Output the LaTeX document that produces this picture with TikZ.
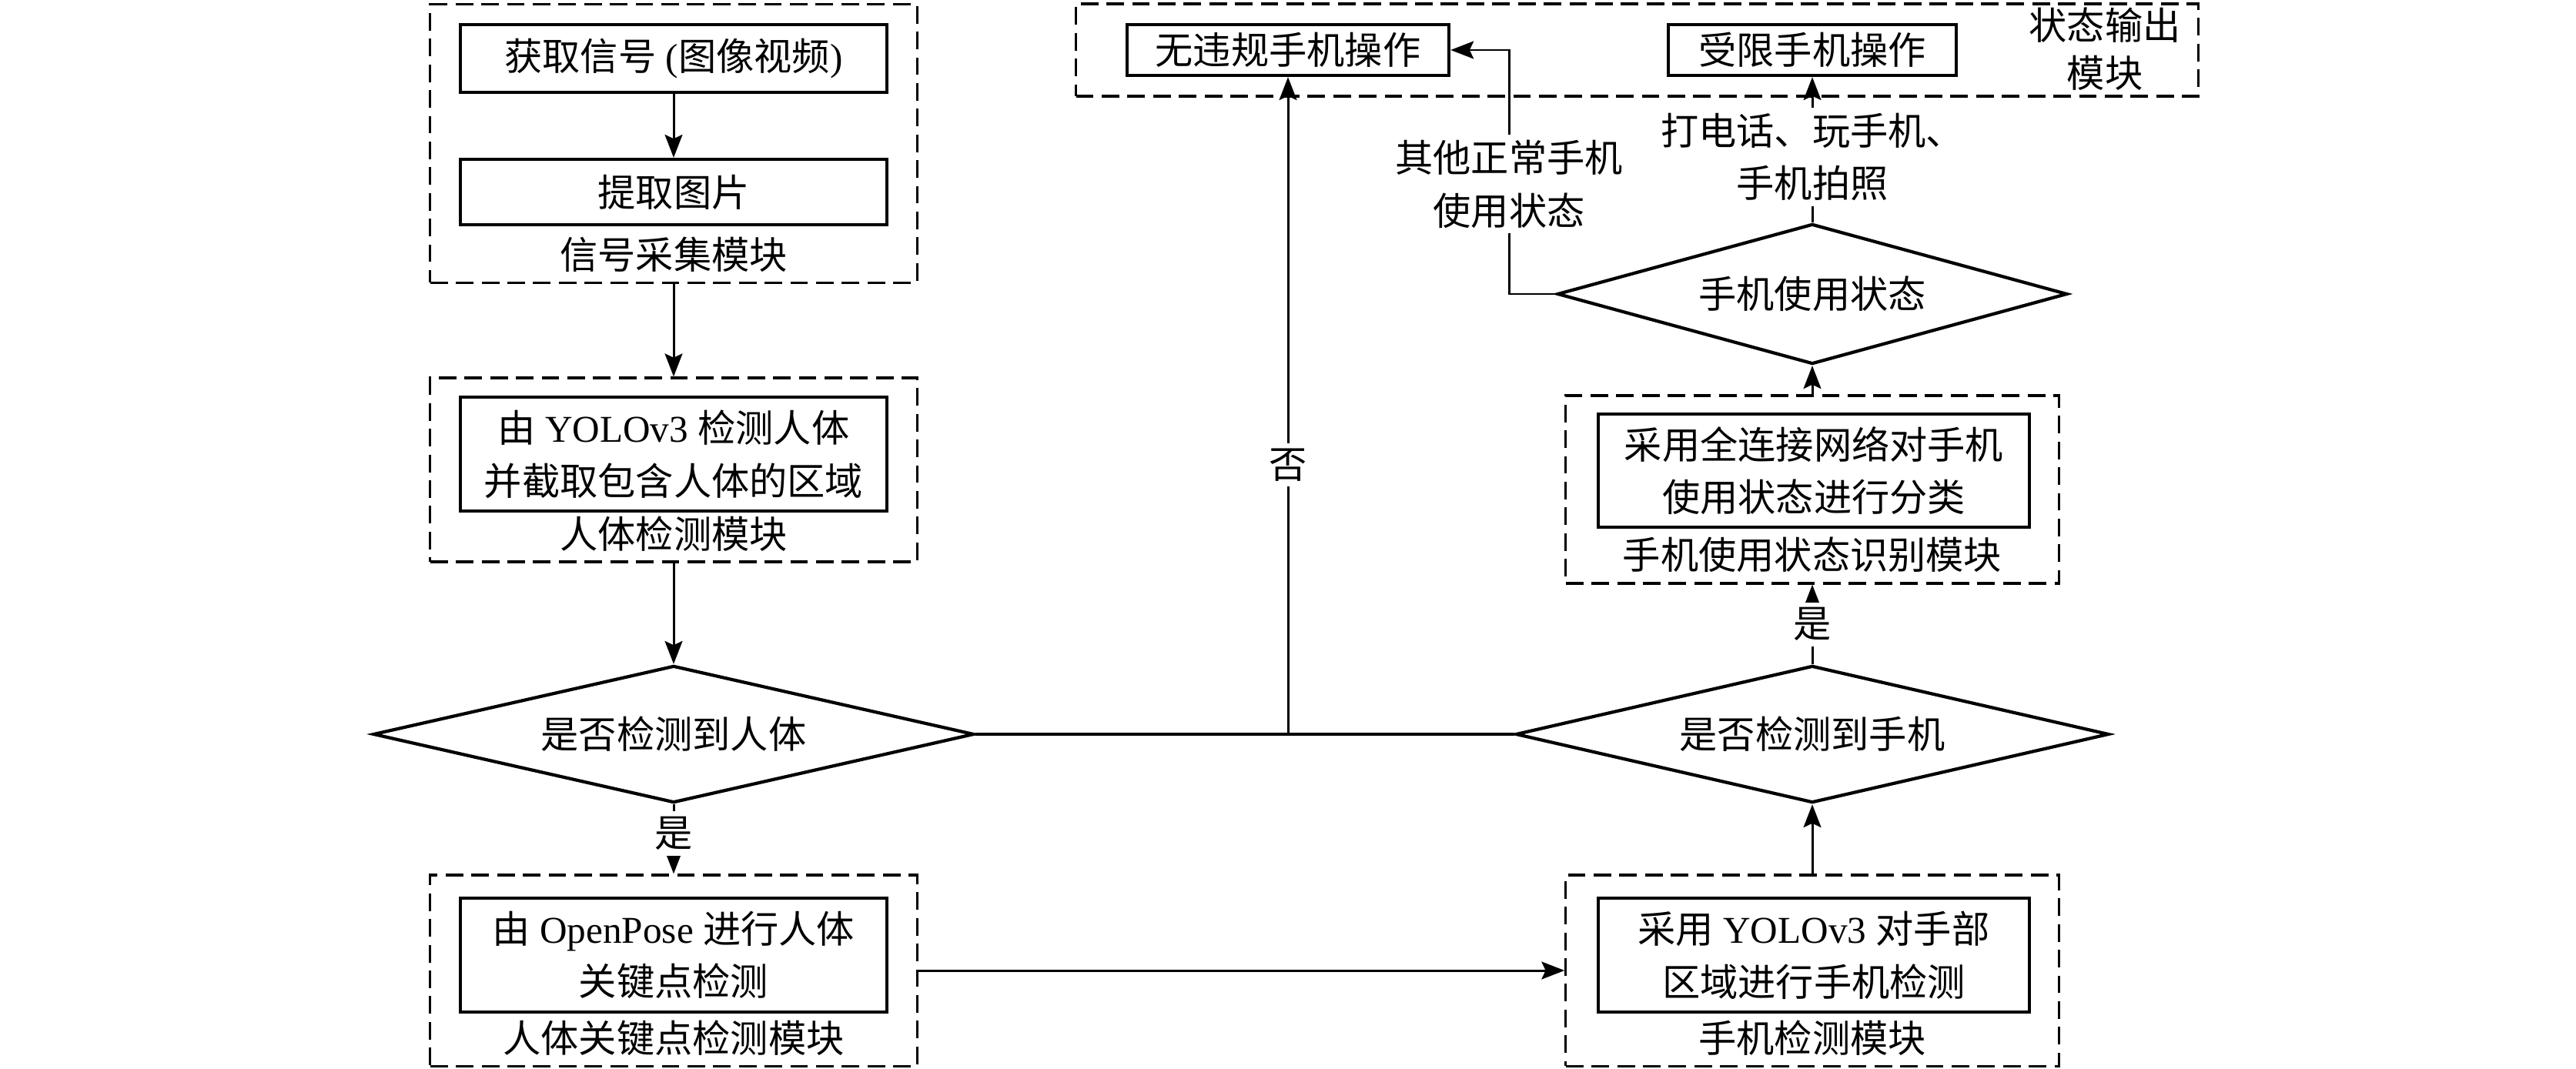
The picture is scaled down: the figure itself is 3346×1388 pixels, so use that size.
\documentclass[tikz,border=0pt]{standalone}
\usepackage{fontspec}
\setmainfont{Liberation Serif}
\newfontfamily\cjk{Noto Sans CJK SC}
\usetikzlibrary{arrows.meta,shapes.geometric}
\begin{document}
\begin{tikzpicture}[x=0.01cm,y=-0.01cm,
  every node/.style={font=\cjk\fontsize{14}{19.5}\selectfont, align=center, inner sep=0pt},
  inbox/.style={draw, line width=1.2pt, rectangle},
  modbox/.style={draw, line width=0.9pt, dash pattern=on 6.5pt off 3pt, rectangle},
  dec/.style={draw, line width=1.2pt, diamond},
  arr/.style={line width=0.85pt, -{Stealth[length=8.5pt,width=6.5pt,inset=1.5pt]}},
  ln/.style={line width=0.9pt},
  lbl/.style={fill=white, inner sep=2pt}
]
\useasboundingbox (0,0) rectangle (3346,1388);

% column 1
\node[modbox, minimum width=6.32cm, minimum height=3.61cm] (A) at (875,186.5) {};
\node[inbox, minimum width=5.53cm, minimum height=0.88cm] (A1) at (875,76) {获取信号{\rmfamily\ (}图像视频{\rmfamily )}};
\node[inbox, minimum width=5.53cm, minimum height=0.85cm] (A2) at (875,249.5) {提取图片};
\node (Al) at (875,331) {信号采集模块};

\node[modbox, minimum width=6.32cm, minimum height=2.39cm] (B) at (875,610.5) {};
\node[inbox, minimum width=5.53cm, minimum height=1.48cm] (B1) at (875,590) {由{\rmfamily\ YOLOv3 }检测人体\\并截取包含人体的区域};
\node (Bl) at (875,694) {人体检测模块};

\node[dec, aspect=4.38, minimum width=7.8cm, minimum height=1.78cm] (D1) at (875,954) {是否检测到人体};

\node[modbox, minimum width=6.32cm, minimum height=2.48cm] (C) at (875,1261) {};
\node[inbox, minimum width=5.53cm, minimum height=1.48cm] (C1) at (875,1241) {由{\rmfamily\ OpenPose }进行人体\\关键点检测};
\node (Cl) at (875,1349) {人体关键点检测模块};

% column 2
\node[modbox, minimum width=6.40cm, minimum height=2.48cm] (D) at (2354,1261) {};
\node[inbox, minimum width=5.59cm, minimum height=1.48cm] (D1b) at (2356,1241) {采用{\rmfamily\ YOLOv3 }对手部\\区域进行手机检测};
\node (Dl) at (2354,1349) {手机检测模块};

\node[dec, aspect=4.33, minimum width=7.7cm, minimum height=1.78cm] (D2) at (2354,954) {是否检测到手机};

\node[modbox, minimum width=6.40cm, minimum height=2.44cm] (E) at (2354,636) {};
\node[inbox, minimum width=5.59cm, minimum height=1.47cm] (E1) at (2356,611.5) {采用全连接网络对手机\\使用状态进行分类};
\node (El) at (2354,721) {手机使用状态识别模块};

\node[dec, aspect=3.64, minimum width=6.62cm, minimum height=1.82cm] (D3) at (2354,382) {手机使用状态};

% output module
\node[modbox, minimum width=14.57cm, minimum height=1.2cm] (F) at (2126.5,65) {};
\node[inbox, minimum width=4.18cm, minimum height=0.66cm] (F1) at (1673,65) {无违规手机操作};
\node[inbox, minimum width=3.74cm, minimum height=0.66cm] (F2) at (2354,65) {受限手机操作};
\node (Fl) at (2734,64) {状态输出\\[-2pt]模块};

\coordinate (J) at (1673,954);
\coordinate (K1) at (1960,382);
\coordinate (K2) at (1960,65);

% connectors
\draw[arr] (A1) -- (A2);
\draw[arr] (A) -- (B);
\draw[arr] (B) -- (D1);
\draw[arr] (D1) -- node[lbl, pos=0.42] {是} (C);
\draw[arr] (C) -- (D);
\draw[arr] (D) -- (D2);
\draw[arr] (D2) -- node[lbl] {是} (E);
\draw[arr] (E) -- (D3);
\draw[arr] (D3) -- node[lbl, pos=0.45] {打电话、玩手机、\\手机拍照} (F2);
\draw[arr] (D3.west) -- (K1) -- node[lbl, pos=0.45] {其他正常手机\\使用状态} (K2) -- (F1.east);
\draw[ln] (D1.east) -- (D2.west);
\draw[arr] (J) -- node[lbl, pos=0.41] {否} (F1.south);
\end{tikzpicture}
\end{document}
